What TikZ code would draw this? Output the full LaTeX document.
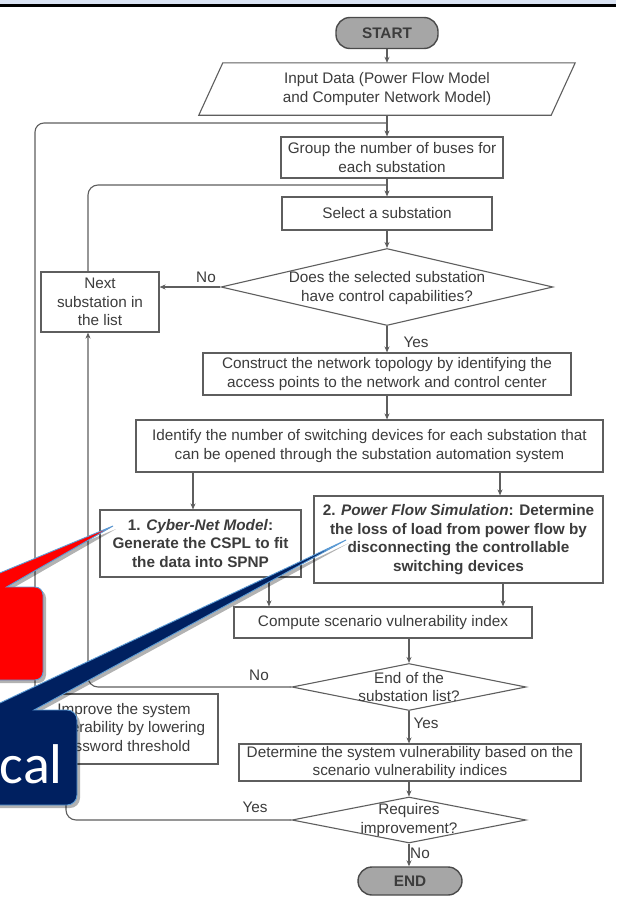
\documentclass[tikz,border=0pt]{standalone}
\usepackage{fontspec}
\setmainfont{Liberation Sans}
\newfontfamily\calibri{Carlito}
\usetikzlibrary{arrows.meta,shapes.geometric,calc,shadows}
\definecolor{ink}{HTML}{3C3C3C}
\definecolor{rule}{HTML}{5E5E5E}
\definecolor{pillgrey}{HTML}{A6A6A6}
\definecolor{pilledge}{HTML}{4A4A4A}
\definecolor{bandblue}{HTML}{DAE3F3}
\definecolor{calloutred}{HTML}{FF0000}
\definecolor{calloutnavy}{HTML}{002060}
\definecolor{calloutedge}{HTML}{5B9BD5}

\begin{document}
\begin{tikzpicture}[x=1pt,y=-1pt,
  every node/.style={text=ink, font=\fontsize{15.3}{18.6}\selectfont},
  flowbox/.style={draw=rule, line width=1.1pt, fill=white, align=center, inner sep=0pt},
  strong/.style={font=\fontsize{15.3}{18.6}\selectfont\bfseries},
  pill/.style={draw=pilledge, line width=1.4pt, fill=pillgrey, rounded corners=14pt,
    inner sep=0pt, font=\fontsize{15.3}{18.6}\selectfont\bfseries},
  decision/.style={diamond, draw=rule, line width=1.1pt, fill=white, inner sep=0pt},
  flowtext/.style={align=center, inner sep=0pt},
  link/.style={draw=rule, line width=1.1pt},
  arr/.style={link, -{Stealth[length=6pt,width=5pt]}},
  tag/.style={inner sep=0pt},
  callout/.style={line width=0.9pt, draw=calloutedge,
    drop shadow={shadow xshift=3pt, shadow yshift=-3pt, opacity=0.3, fill=black}},
]
% canvas and header band
\useasboundingbox (0,0) rectangle (616,897);
\fill[white] (0,0) rectangle (616,897);
\fill[bandblue] (0,0) rectangle (616,4);
\fill[black] (0,4) rectangle (616,6.5);

% loop guide points
\coordinate (oL) at (35,123);
\coordinate (iL) at (88,185);
\coordinate (yL) at (66,819);

% terminals and process steps
\node[pill, minimum width=102pt, minimum height=31pt] (start) at (387,33) {START};

\node[minimum width=352pt, minimum height=52pt, inner sep=0pt] (inp) at (387,89) {};
\draw[link, fill=white] ($(inp.north west)+(12,0)$) -- ($(inp.north east)+(12,0)$)
  -- ($(inp.south east)+(-12,0)$) -- ($(inp.south west)+(-12,0)$) -- cycle;
\node[flowtext] (inptext) at (inp) {Input Data (Power Flow Model\\and Computer Network Model)};

\node[flowbox, minimum width=222pt, minimum height=41pt] (grp) at (392,157.5)
  {Group the number of buses for\\each substation};
\node[flowbox, minimum width=210pt, minimum height=33pt] (sel) at (387,213.5)
  {Select a substation};

\node[decision, minimum width=332pt, minimum height=77pt] (d1) at (387,287) {};
\node[flowtext] (d1t) at (387,288) {Does the selected substation\\have control capabilities?};

\node[flowbox, minimum width=118pt, minimum height=60pt] (nxt) at (100,302)
  {Next\\substation in\\the list};

\node[flowbox, minimum width=368pt, minimum height=42pt] (con) at (387,374)
  {Construct the network topology by identifying the\\access points to the network and control center};
\node[flowbox, minimum width=467pt, minimum height=52pt] (idf) at (369.5,446)
  {Identify the number of switching devices for each substation that\\can be opened through the substation automation system};

\node[flowbox, strong, minimum width=201pt, minimum height=67pt] (cyb) at (200.5,543.5)
  {1. \textit{Cyber-Net Model}:\\Generate the CSPL to fit\\the data into SPNP};
\node[flowbox, strong, minimum width=289pt, minimum height=87pt] (pwr) at (458.5,539.5)
  {2. \textit{Power Flow Simulation}: Determine\\the loss of load from power flow by\\disconnecting the controllable\\switching devices};

\node[flowbox, minimum width=298pt, minimum height=31pt] (cmp) at (383,622.5)
  {Compute scenario vulnerability index};

\node[decision, minimum width=234pt, minimum height=47pt] (d2) at (409,687) {};
\node[flowtext] (d2t) at (409,687) {End of the\\substation list?};

\node[flowbox, minimum width=188pt, minimum height=70pt] (imp) at (124,729)
  {Improve the system\\vulnerability by lowering\\password threshold};

\node[flowbox, minimum width=342pt, minimum height=37pt] (det) at (410,762.5)
  {Determine the system vulnerability based on the\\scenario vulnerability indices};

\node[decision, minimum width=234pt, minimum height=46pt] (d3) at (409,820) {};
\node[flowtext] (d3t) at (409,820) {Requires\\improvement?};

\node[pill, minimum width=104pt, minimum height=28pt] (endn) at (410,881) {END};

% connectors
\draw[arr] (start) -- (inp);
\draw[arr] (inp.south) -- (inp.south |- grp.north);
\draw[link, rounded corners=9pt] (imp.north -| oL) -- (oL) -- (oL -| inp.south);
\draw[arr] (grp.south -| sel.north) -- (sel.north);
\draw[link, rounded corners=10pt] (nxt.north -| iL) -- (iL) -- (iL -| sel.north);
\draw[arr] (sel) -- (d1);
\draw[arr] (d1.west) -- (d1.west -| nxt.east);
\draw[arr] (d1) -- (con);
\draw[arr] (con.south) -- (con.south |- idf.north);
\draw[arr] ([xshift=-7.5pt]cyb.north |- idf.south) -- ([xshift=-7.5pt]cyb.north);
\draw[arr] ([xshift=41.5pt]pwr.north |- idf.south) -- ([xshift=41.5pt]pwr.north);
\draw[arr] ([xshift=68.5pt]cyb.south) -- ([xshift=68.5pt]cyb.south |- cmp.north);
\draw[arr] ([xshift=44.5pt]pwr.south) -- ([xshift=44.5pt]pwr.south |- cmp.north);
\draw[arr] (cmp.south -| d2.north) -- (d2.north);
\draw[arr] (d2.south) -- (d2.south |- det.north);
\draw[arr] (det.south -| d3.north) -- (d3.north);
\draw[arr] (d3.south) -- (d3.south |- endn.north);
\draw[arr, rounded corners=10pt] (d2.west) -- (d2.west -| iL) -- (nxt.south -| iL);
\draw[arr, rounded corners=10pt] (d3.west) -- (d3.west -| yL) -- (imp.south -| yL);

% branch labels
\node[tag] (no1) at (206,277) {No};
\node[tag] (yes1) at (416,342) {Yes};
\node[tag] (no2) at (259,675) {No};
\node[tag] (yes2) at (426,723) {Yes};
\node[tag] (yes3) at (255,807) {Yes};
\node[tag] (no3) at (420,853) {No};

% callouts laid over the chart
\path[callout, fill=calloutred]
  (-60,680) -- (-60,587) -- (-34,587) -- (113,526) -- (6.5,587) -- (20,587)
  [rounded corners=8pt] -- (43,587) -- (43,680) -- (20,680)
  [sharp corners] -- (-60,680) -- cycle;
\path[callout, fill=calloutnavy]
  (-60,805) -- (-60,710) -- (-15,710) -- (346,540) -- (34,710) -- (50,710)
  [rounded corners=10pt] -- (77,710) -- (77,805) -- (50,805)
  [sharp corners] -- (-60,805) -- cycle;
\node[anchor=base east, inner sep=0pt, text=white,
  font=\calibri\fontsize{56}{60}\selectfont] (calword) at (63,783) {cal};
\end{tikzpicture}
\end{document}
